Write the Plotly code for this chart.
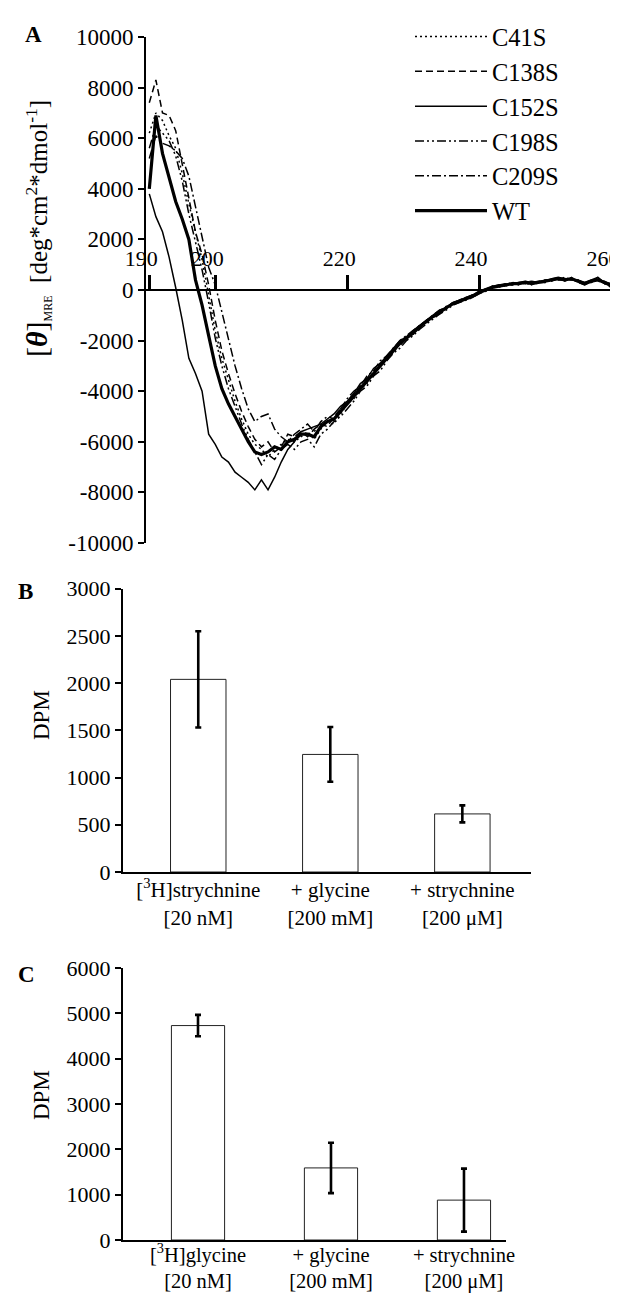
import plotly.graph_objects as go

# ---------------- Data ----------------
wavelength = list(range(190, 261))

c41s = [6200, 7000, 6700, 6100, 5600, 4600, 3400, 2300, 1200, -200,
        -1600, -2700, -3600, -4400, -5100, -5700, -6100, -6300, -6600, -6300,
        -6100, -5900, -6000, -5800, -5600, -5900, -5500, -5200, -5300, -4900,
        -4500, -4300, -3900, -3700, -3200, -3000, -2600, -2500, -2100, -1800,
        -1750, -1400, -1300, -1000, -950, -650, -600, -400, -400, -200,
        -150, 50, 50, 200, 150, 300, 200, 350, 200, 350,
        300, 450, 400, 500, 400, 400, 200, 400, 350, 300,
        250]

c138s = [7400, 8300, 7000, 6900, 6300, 5000, 3600, 2300, 1400, 200,
         -1200, -2400, -3300, -4100, -4800, -5400, -5900, -6200, -6000, -6400,
         -6200, -5700, -5800, -5600, -5800, -5500, -5300, -5400, -5000, -4700,
         -4400, -4100, -3800, -3500, -3400, -2900, -2800, -2300, -2200, -1900,
         -1600, -1500, -1200, -1100, -850, -750, -500, -500, -300, -300,
         -50, -50, 150, 100, 250, 200, 300, 250, 300, 250,
         400, 350, 500, 350, 500, 300, 300, 300, 450, 250,
         150]

c152s = [3800, 2900, 2300, 1300, 100, -1200, -2700, -3300, -4000, -5700,
         -6100, -6600, -6800, -7200, -7400, -7600, -7900, -7500, -7900, -7400,
         -6800, -6300, -6000, -5600, -5500, -5400, -5300, -5100, -4900, -4600,
         -4400, -4100, -3700, -3500, -3100, -2900, -2600, -2300, -2000, -1850,
         -1600, -1400, -1200, -1000, -800, -700, -500, -400, -300, -200,
         -50, 50, 150, 200, 250, 200, 300, 350, 300, 350,
         350, 450, 500, 450, 400, 400, 300, 400, 500, 250,
         150]

c198s = [5600, 6500, 6200, 5900, 5300, 4300, 3000, 1900, 800, -500,
         -1900, -3000, -3900, -4600, -5300, -5900, -6400, -6900, -6500, -6700,
         -6300, -6100, -6300, -6000, -5900, -6200, -5700, -5500, -5200, -5000,
         -4700, -4400, -4000, -3800, -3400, -3200, -2800, -2500, -2300, -2000,
         -1800, -1550, -1350, -1150, -950, -800, -600, -500, -400, -300,
         -150, -50, 100, 150, 150, 250, 300, 250, 250, 300,
         300, 400, 400, 400, 450, 300, 200, 350, 400, 350,
         200]

c209s = [5200, 6100, 5800, 5700, 5500, 5200, 4500, 3300, 2100, 900,
         200, -900, -2000, -3000, -3900, -4700, -5200, -5000, -4900, -5500,
         -5800, -6000, -5700, -5500, -5300, -5600, -5200, -5000, -5100, -4700,
         -4300, -4000, -3800, -3400, -3200, -2800, -2600, -2300, -2000, -1800,
         -1600, -1400, -1200, -1000, -800, -700, -500, -400, -300, -200,
         -100, 0, 150, 200, 200, 300, 250, 300, 350, 300,
         400, 400, 450, 450, 400, 350, 250, 300, 500, 300,
         100]

wt = [4000, 6900, 5400, 4400, 3500, 2800, 2000, 400, -600, -1800,
      -3000, -3900, -4500, -5000, -5500, -6000, -6400, -6500, -6400, -6200,
      -6300, -6000, -5900, -5700, -5700, -5800, -5400, -5200, -5100, -4800,
      -4500, -4200, -3900, -3600, -3300, -3000, -2700, -2400, -2100, -1900,
      -1700, -1450, -1250, -1050, -900, -700, -550, -450, -350, -250,
      -100, 0, 100, 150, 200, 250, 250, 300, 250, 300,
      350, 400, 450, 400, 450, 350, 250, 350, 400, 300,
      200]

series_names = ["C41S", "C138S", "C152S", "C198S", "C209S", "WT"]
series_values = [c41s, c138s, c152s, c198s, c209s, wt]

cd_tickvals = [-10000, -8000, -6000, -4000, -2000, 0, 2000, 4000, 6000, 8000, 10000]
cd_ticktext = ["-10000", "-8000", "-6000", "-4000", "-2000", "0",
               "2000", "4000", "6000", "8000", "10000"]
wl_tickvals = [190, 200, 220, 240, 260]

b_labels = ["[<sup>3</sup>H]strychnine<br>[20 nM]", "+ glycine<br>[200 mM]",
            "+ strychnine<br>[200 μM]"]
b_values = [2040, 1245, 615]
b_errors = [510, 290, 90]
b_tickvals = [0, 500, 1000, 1500, 2000, 2500, 3000]

c_labels = ["[<sup>3</sup>H]glycine<br>[20 nM]", "+ glycine<br>[200 mM]",
            "+ strychnine<br>[200 μM]"]
c_values = [4730, 1590, 880]
c_errors = [235, 555, 695]
c_tickvals = [0, 1000, 2000, 3000, 4000, 5000, 6000]

# ---------------- Styles ----------------
FONT = "Liberation Serif, Times New Roman, serif"
W, H = 618, 1293
line_styles = {
    "C41S": ("2px,3px", 1.5),
    "C138S": ("7px,4px", 1.5),
    "C152S": ("solid", 1.5),
    "C198S": ("9px,3px,2px,3px,2px,3px", 1.5),
    "C209S": ("9px,3px,2px,3px", 1.5),
    "WT": ("solid", 3.2),
}


def px_x(p):
    return p / W


def px_y(p):
    return 1 - p / H


fig = go.Figure()

for name, vals in zip(series_names, series_values):
    dash, width = line_styles[name]
    fig.add_trace(go.Scatter(
        x=wavelength, y=vals, mode="lines", name=name,
        line=dict(color="black", width=width, dash=dash),
        legendgroup=name, xaxis="x", yaxis="y"))

bar_marker = dict(color="white", line=dict(color="#222222", width=1))
fig.add_trace(go.Bar(
    x=[0, 1, 2], y=b_values, width=0.42, marker=bar_marker,
    error_y=dict(type="data", array=b_errors, color="black", thickness=2.6, width=3),
    showlegend=False, xaxis="x2", yaxis="y2"))
fig.add_trace(go.Bar(
    x=[0, 1, 2], y=c_values, width=0.40, marker=bar_marker,
    error_y=dict(type="data", array=c_errors, color="black", thickness=2.6, width=3),
    showlegend=False, xaxis="x3", yaxis="y3"))

a_dom = [px_y(535), px_y(29)]
b_dom = [px_y(864), px_y(580.7)]
c_dom = [px_y(1232), px_y(960)]
a_zero = (a_dom[0] + a_dom[1]) / 2


def ax(size, **kw):
    d = dict(showgrid=False, zeroline=False, showline=True, linecolor="black",
             linewidth=2, tickcolor="black", automargin=False,
             tickfont=dict(family=FONT, size=size, color="black"))
    d.update(kw)
    return d


fig.update_layout(
    template="none",
    width=W, height=H, margin=dict(l=0, r=0, t=0, b=0, pad=0), autosize=False,
    paper_bgcolor="white", plot_bgcolor="white",
    font=dict(family=FONT, color="black"),
    xaxis=ax(22, domain=[px_x(138), px_x(605)], range=[189.5, 260.3],
             anchor="free", position=a_zero, side="top",
             tickvals=wl_tickvals, ticks="outside", ticklen=14, tickwidth=2.5,
             ticklabeloverflow="allow", ticklabelshift=-8),
    yaxis=ax(23, domain=a_dom, range=[-10000, 10000], anchor="x",
             tickvals=cd_tickvals, ticktext=cd_ticktext, ticks="outside",
             ticklen=6, tickwidth=2),
    xaxis2=ax(21, domain=[px_x(115), px_x(523)], range=[-0.57, 2.52], anchor="y2",
              tickvals=[0, 1, 2], ticktext=b_labels, ticks="", ticklabelstandoff=-2),
    yaxis2=ax(22, domain=b_dom, range=[0, 3000], anchor="x2", tickvals=b_tickvals,
              ticks="outside", ticklen=6, tickwidth=2),
    xaxis3=ax(20.5, domain=[px_x(115), px_x(498)], range=[-0.564, 2.316], anchor="y3",
              tickvals=[0, 1, 2], ticktext=c_labels, ticks="", ticklabelstandoff=-5),
    yaxis3=ax(22, domain=c_dom, range=[0, 6000], anchor="x3", tickvals=c_tickvals,
              ticks="outside", ticklen=6, tickwidth=2),
    legend=dict(x=px_x(402), y=px_y(6), xanchor="left", yanchor="top",
                font=dict(family=FONT, size=24.5, color="black"), itemwidth=72,
                bgcolor="rgba(0,0,0,0)", borderwidth=0, tracegroupgap=1,
                traceorder="normal"),
)

annotations = [
    dict(text="<b>A</b>", x=px_x(25), y=px_y(27)),
    dict(text="<b>B</b>", x=px_x(17), y=px_y(583)),
    dict(text="<b>C</b>", x=px_x(18), y=px_y(967)),
]
for a in annotations:
    a.update(xref="paper", yref="paper", showarrow=False, xanchor="center",
             yanchor="middle", font=dict(family=FONT, size=23, color="black"))

annotations += [
    dict(text="<span style='font-size:30px'>[<b><i>θ</i></b>]</span><sub><span style='font-size:12px'>MRE</span></sub>"
              "  [deg*cm<sup>2</sup>*dmol<sup>-1</sup>]",
         x=px_x(30), y=px_y(221), textangle=-90, font=dict(family=FONT, size=25, color="black")),
    dict(text="DPM", x=px_x(33), y=px_y(707), textangle=-90,
         font=dict(family=FONT, size=23, color="black")),
    dict(text="DPM", x=px_x(33), y=px_y(1087), textangle=-90,
         font=dict(family=FONT, size=23, color="black")),
]
for a in annotations[3:]:
    a.update(xref="paper", yref="paper", showarrow=False, xanchor="center", yanchor="middle")

fig.update_layout(annotations=annotations)

fig.write_html("out.html")
